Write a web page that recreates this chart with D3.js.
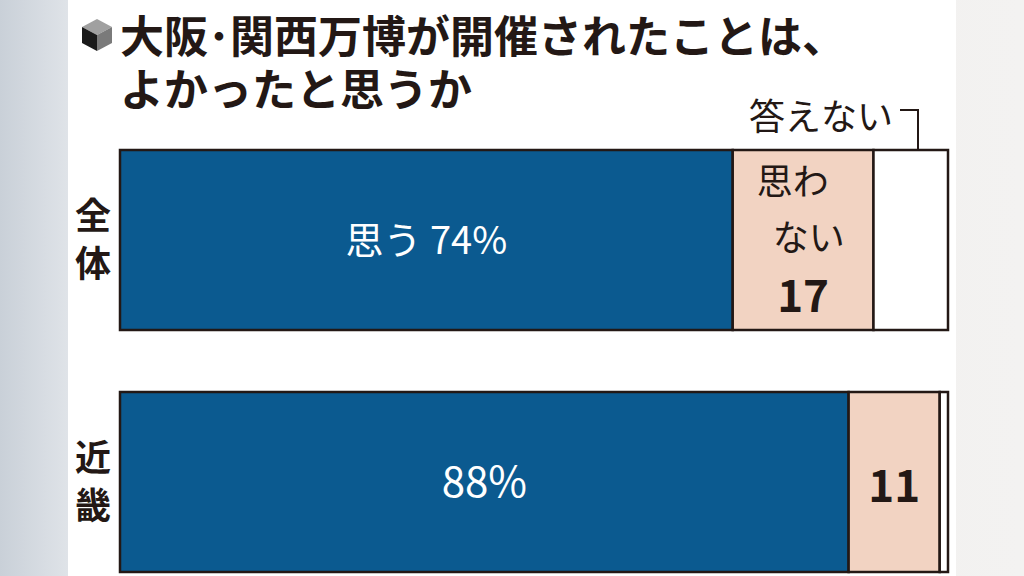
<!DOCTYPE html>
<html><head><meta charset="utf-8">
<script src="https://cdn.jsdelivr.net/npm/d3@7"></script>
<style>body{margin:0;overflow:hidden}svg{display:block}text{font-family:"Noto Sans CJK JP","Noto Sans",sans-serif}</style>
</head><body><svg id="c" width="1024" height="576"></svg>
<script>
const categories = ["全体", "近畿"];
const seriesNames = ["思う", "思わない", "答えない"];
const yes = [74, 88];
const no = [17, 11];
const noAnswer = [9, 1];
const colors = ["#0b5a90", "#f2d3c2", "#ffffff"];

const svg = d3.select("#c");
const defs = svg.append("defs");
const gl = defs.append("linearGradient").attr("id","gl");
gl.append("stop").attr("offset","0").attr("stop-color","#c9d0d8");
gl.append("stop").attr("offset","1").attr("stop-color","#dfe3e8");
const gr = defs.append("linearGradient").attr("id","gr");
gr.append("stop").attr("offset","0").attr("stop-color","#ebe8e6");
gr.append("stop").attr("offset","1").attr("stop-color","#f3f2f1");
svg.append("rect").attr("width",1024).attr("height",576).attr("fill","url(#gr)");
svg.append("rect").attr("width",68).attr("height",576).attr("fill","url(#gl)");
svg.append("rect").attr("x",68).attr("width",888).attr("height",576).attr("fill","#fff");

// icon
const ic = svg.append("g").attr("transform","translate(97,34)");
ic.append("path").attr("d","M0,-15 L15,-7 L0,1 L-15,-7Z").attr("fill","#a0a0a0");
ic.append("path").attr("d","M-15,-7 L0,1 L0,17 L-15,9Z").attr("fill","#1a1a1a");
ic.append("path").attr("d","M15,-7 L0,1 L0,17 L15,9Z").attr("fill","#7a7a7a");

svg.append("text").attr("x",120).attr("y",53).attr("font-size",44).attr("font-weight",700).attr("fill","#231815").text("大阪･関西万博が開催されたことは、");
svg.append("text").attr("x",120).attr("y",106).attr("font-size",44).attr("font-weight",700).attr("fill","#231815").text("よかったと思うか");

const x = d3.scaleLinear().domain([0,100]).range([120,948]);
const y = d3.scaleBand().domain(categories).range([150,572]).paddingInner(62/242);

const rows = categories.map((c,i)=>{
  const vals=[yes[i],no[i],noAnswer[i]]; let acc=0;
  return vals.map((v,k)=>{const s={cat:c,k,v,x0:acc,x1:acc+v}; acc+=v; return s;});
});
const g = svg.append("g");
rows.forEach(r=>{
  g.selectAll(null).data(r).enter().append("rect")
   .attr("x",d=>x(d.x0)).attr("y",d=>y(d.cat)).attr("width",d=>x(d.x1)-x(d.x0)).attr("height",y.bandwidth())
   .attr("fill",d=>colors[d.k]).attr("stroke","#231815").attr("stroke-width",2.5);
});
categories.forEach(c=>{
  const cy=y(c)+y.bandwidth()/2;
  [...c].forEach((ch,j)=>svg.append("text").attr("x",93).attr("y",cy+(j-0.5)*48+13).attr("text-anchor","middle")
    .attr("font-size",36).attr("font-weight",700).attr("fill","#231815").text(ch));
});
const mid=(d)=> (x(d.x0)+x(d.x1))/2;
const r0=rows[0], r1=rows[1];
const cy0=y(categories[0])+y.bandwidth()/2, cy1=y(categories[1])+y.bandwidth()/2;
svg.append("text").attr("x",mid(r0[0])).attr("y",cy0+14).attr("text-anchor","middle").attr("font-size",38).attr("fill","#fff").text(seriesNames[0]+" "+yes[0]+"%");
svg.append("text").attr("x",mid(r1[0])).attr("y",cy1+15).attr("text-anchor","middle").attr("font-size",42).attr("fill","#fff").text(yes[1]+"%");
svg.append("text").attr("x",x(r0[1].x0)+24).attr("y",cy0-45).attr("font-size",36).attr("fill","#231815").text("思わ");
svg.append("text").attr("x",x(r0[1].x0)+40).attr("y",cy0+11).attr("font-size",36).attr("fill","#231815").text("ない");
svg.append("text").attr("x",mid(r0[1])).attr("y",cy0+72).attr("text-anchor","middle").attr("font-size",44).attr("font-weight",700).attr("fill","#231815").text(no[0]);
svg.append("text").attr("x",mid(r1[1])).attr("y",cy1+20).attr("text-anchor","middle").attr("font-size",44).attr("font-weight",700).attr("fill","#231815").text(no[1]);
svg.append("text").attr("x",893).attr("y",130).attr("text-anchor","end").attr("font-size",36).attr("fill","#231815").text(seriesNames[2]);
const cx = 918;
svg.append("path").attr("d",`M${900},110 L${cx},110 L${cx},150`).attr("fill","none").attr("stroke","#231815").attr("stroke-width",2);
</script></body></html>
